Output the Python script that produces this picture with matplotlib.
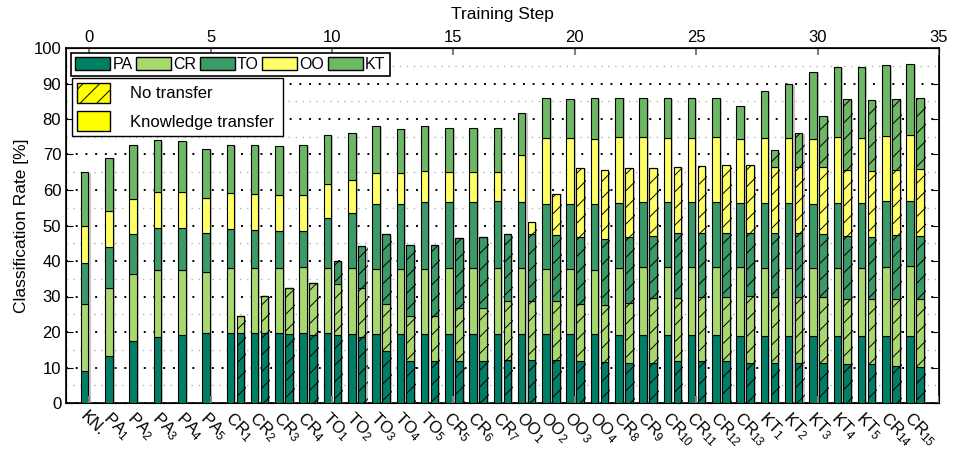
import numpy as np
import matplotlib.pyplot as plt
import matplotlib.patches as mpatches
from matplotlib import patheffects

plt.rcParams['font.family'] = ['Liberation Sans', 'DejaVu Sans']
plt.rcParams['mathtext.fontset'] = 'custom'
plt.rcParams['mathtext.rm'] = 'Liberation Sans'
plt.rcParams['mathtext.it'] = 'Liberation Sans:italic'
plt.rcParams['hatch.linewidth'] = 0.7

step_labels = ['KN.', 'PA$_1$', 'PA$_2$', 'PA$_3$', 'PA$_4$', 'PA$_5$',
               'CR$_1$', 'CR$_2$', 'CR$_3$', 'CR$_4$',
               'TO$_1$', 'TO$_2$', 'TO$_3$', 'TO$_4$', 'TO$_5$',
               'CR$_5$', 'CR$_6$', 'CR$_7$',
               'OO$_1$', 'OO$_2$', 'OO$_3$', 'OO$_4$',
               'CR$_8$', 'CR$_9$', 'CR$_{10}$', 'CR$_{11}$', 'CR$_{12}$', 'CR$_{13}$',
               'KT$_1$', 'KT$_2$', 'KT$_3$', 'KT$_4$', 'KT$_5$',
               'CR$_{14}$', 'CR$_{15}$']
categories = ['PA', 'CR', 'TO', 'OO', 'KT']
colors = ['#007F66', '#A9D86E', '#3A9B69', '#FFFF66', '#6CB864']

# cumulative tops of the stacks (knowledge transfer)
kt_pa = [8.9, 13.3, 17.5, 18.7, 19.2, 19.7, 19.7, 19.7, 19.7, 19.7, 19.7, 19.5, 19.5, 19.5, 19.5, 19.5, 19.5, 19.5,
         19.5, 19.5, 19.5, 19.5, 19.2, 19.2, 19.2, 19.2, 19.2, 19.0, 19.0, 19.0, 19.0, 19.0, 19.0, 19.0, 19.0]
kt_cr = [27.9, 32.3, 36.2, 37.5, 37.6, 37.0, 38.0, 38.0, 38.1, 38.2, 38.1, 38.0, 37.8, 37.8, 37.8, 38.0, 38.0, 38.1,
         38.0, 37.8, 37.8, 37.6, 38.1, 38.4, 38.4, 38.2, 38.2, 38.2, 38.1, 38.1, 38.1, 38.1, 38.1, 38.2, 38.5]
kt_to = [39.5, 43.9, 47.6, 49.3, 49.2, 47.9, 48.9, 48.7, 48.5, 48.5, 52.1, 53.6, 56.0, 56.0, 56.6, 56.6, 56.6, 56.8,
         56.6, 56.0, 56.0, 56.0, 56.3, 56.6, 56.6, 56.6, 56.5, 56.3, 56.3, 56.3, 56.0, 56.3, 56.3, 56.8, 57.0]
kt_oo = [49.8, 54.2, 57.6, 59.4, 59.5, 57.7, 59.1, 58.9, 58.5, 58.7, 61.7, 62.7, 64.8, 64.8, 65.3, 65.0, 65.0, 65.2,
         69.9, 74.7, 74.6, 74.3, 74.8, 74.8, 74.7, 74.7, 74.8, 74.5, 74.6, 74.6, 74.3, 74.8, 74.7, 75.2, 75.4]
kt_kt = [65.0, 69.1, 72.7, 74.1, 73.8, 71.5, 72.6, 72.7, 72.4, 72.7, 75.5, 76.1, 77.9, 77.3, 78.1, 77.5, 77.5, 77.6,
         81.8, 85.8, 85.5, 85.8, 86.0, 85.8, 85.8, 85.8, 85.8, 83.8, 87.8, 89.8, 93.3, 94.6, 94.6, 95.1, 95.4]

# cumulative tops of the stacks (no transfer)
na = np.nan
nt_pa = [na, na, na, na, na, na, 19.7, 19.7, 19.5, 19.2, 19.2, 18.6, 14.7, 11.8, 11.8, 11.9, 11.9, 12.2,
         12.2, 12.2, 11.9, 11.6, 11.2, 11.4, 11.7, 11.7, 11.7, 11.3, 11.3, 11.3, 11.3, 10.9, 10.9, 10.3, 10.1]
nt_cr = [na, na, na, na, na, na, 24.5, 30.1, 32.4, 33.9, 33.4, 32.4, 27.9, 24.5, 24.5, 26.7, 26.7, 28.8,
         28.8, 28.6, 27.9, 27.6, 28.1, 29.6, 29.6, 29.8, 29.8, 30.1, 29.8, 29.8, 29.8, 29.3, 29.3, 29.3, 29.3]
nt_to = [na, na, na, na, na, na, 24.5, 30.1, 32.4, 33.9, 40.0, 44.1, 47.6, 44.5, 44.5, 46.4, 46.7, 47.5,
         47.6, 47.3, 46.7, 46.1, 46.7, 47.1, 47.8, 47.9, 47.9, 47.9, 47.8, 47.8, 47.6, 47.0, 46.9, 47.3, 47.1]
nt_oo = [na, na, na, na, na, na, 24.5, 30.1, 32.4, 33.9, 40.0, 44.1, 47.6, 44.5, 44.5, 46.4, 46.7, 47.5,
         50.9, 59.0, 66.2, 65.6, 66.1, 66.1, 66.4, 66.8, 67.0, 67.0, 66.6, 66.6, 66.5, 65.6, 65.4, 65.6, 65.8]
nt_kt = [na, na, na, na, na, na, 24.5, 30.1, 32.4, 33.9, 40.0, 44.1, 47.6, 44.5, 44.5, 46.4, 46.7, 47.5,
         50.9, 59.0, 66.2, 65.6, 66.1, 66.1, 66.4, 66.8, 67.0, 67.0, 71.3, 76.1, 80.8, 85.6, 85.4, 85.6, 85.8]

kt_tops = np.array([kt_pa, kt_cr, kt_to, kt_oo, kt_kt])
nt_tops = np.array([nt_pa, nt_cr, nt_to, nt_oo, nt_kt])

fig = plt.figure(figsize=(9.57, 4.5), dpi=100)
ax = fig.add_axes([66 / 957, 47 / 450, 873 / 957, 355 / 450])

x = np.arange(len(step_labels))
w = 0.31
shadow = [patheffects.SimplePatchShadow(offset=(1.5, -0.5), shadow_rgbFace='0.55', alpha=0.5),
          patheffects.Normal()]

for k in range(len(categories)):
    b_kt = kt_tops[k - 1] if k > 0 else np.zeros(len(x))
    b_nt = nt_tops[k - 1] if k > 0 else np.where(np.isnan(nt_tops[0]), np.nan, 0)
    ax.bar(x - 0.19, kt_tops[k] - b_kt, w, bottom=b_kt, color=colors[k],
           edgecolor='k', linewidth=0.8, zorder=3, path_effects=shadow)
    ax.bar(x + 0.22, nt_tops[k] - b_nt, w, bottom=b_nt, color=colors[k],
           edgecolor='k', linewidth=0.8, hatch='//', zorder=3, path_effects=shadow)

ax.set_xlim(-0.96, 35)
ax.set_ylim(0, 100)
ax.set_yticks(range(0, 101, 10))
ax.set_yticks(range(5, 100, 10), minor=True)
ax.set_axisbelow(True)
ax.yaxis.grid(True, which='major', color='k', linestyle=(0, (1, 4)), linewidth=1.4)
ax.yaxis.grid(True, which='minor', color='0.7', linestyle=(0, (1, 4)), linewidth=1.0)
ax.tick_params(axis='y', which='major', direction='in', left=True, right=True, length=5,
               labelsize=12)
ax.tick_params(axis='y', which='minor', length=0)
ax.set_xticks(x - 0.05)
ax.set_xticklabels(step_labels, rotation=-45, ha='left', va='top', rotation_mode='anchor',
                   fontsize=12)
ax.tick_params(axis='x', length=0, pad=4)
ax.set_ylabel('Classification Rate [%]', fontsize=12.5, labelpad=3)
for s in ax.spines.values():
    s.set_linewidth(1.2)

ax2 = ax.twiny()
ax2.set_xlim(-0.96, 35)
ax2.set_xticks(range(0, 36, 5))
ax2.tick_params(axis='x', direction='in', top=True, bottom=True, labeltop=True, labelbottom=False,
                color='0.5', length=5, width=1.5, labelsize=12, pad=2)
ax2.set_xlabel('Training Step', fontsize=12.5, labelpad=8)

cat_handles = [mpatches.Patch(facecolor=c, edgecolor='k', label=n) for c, n in zip(colors, categories)]
leg1 = ax2.legend(handles=cat_handles, ncol=5, loc='upper left',
                  bbox_to_anchor=(71 / 957, 1 - 53 / 450), bbox_transform=fig.transFigure,
                  fontsize=11.5, fancybox=False, edgecolor='k', framealpha=1,
                  handlelength=2.2, handleheight=0.8, handletextpad=0.15, columnspacing=0.2,
                  borderpad=0.25, borderaxespad=0)
leg1.get_frame().set_linewidth(1.2)
ax2.add_artist(leg1)

mode_handles = [mpatches.Patch(facecolor='yellow', edgecolor='k', hatch='//', label='No transfer'),
                mpatches.Patch(facecolor='yellow', edgecolor='k', label='Knowledge transfer')]
leg2 = ax2.legend(handles=mode_handles, loc='upper left', mode='expand',
                  bbox_to_anchor=(72 / 957, 1 - 137 / 450, 211 / 957, 59 / 450),
                  bbox_transform=fig.transFigure,
                  fontsize=12, fancybox=False, edgecolor='k', framealpha=1,
                  handlelength=2.0, handleheight=1.45, handletextpad=1.2, labelspacing=0.5,
                  borderpad=0.3, borderaxespad=0)
leg2.get_frame().set_linewidth(1.0)

fig.savefig('out.png', dpi=100)
